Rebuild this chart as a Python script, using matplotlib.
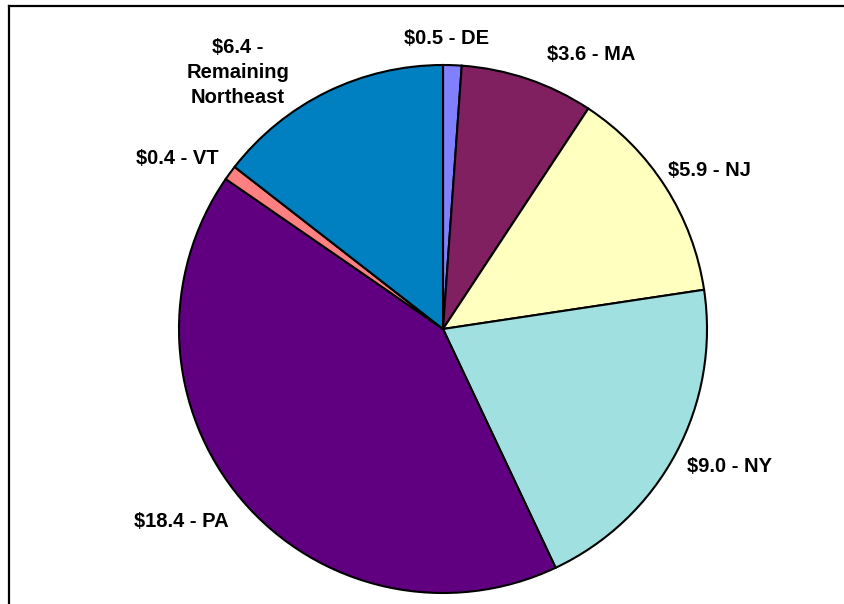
import matplotlib.pyplot as plt
from matplotlib.lines import Line2D

regions = ["DE", "MA", "NJ", "NY", "PA", "VT", "Remaining\nNortheast"]
values = [0.5, 3.6, 5.9, 9.0, 18.4, 0.4, 6.4]
colors = ["#8080FF", "#802060", "#FFFFC0", "#A0E0E0", "#600080", "#FF8080", "#0080C0"]

# label anchor points, in pie-radius units
label_pos = [(0.015, 1.102), (0.561, 1.038), (1.011, 0.602), (1.087, -0.519),
             (-0.992, -0.731), (-1.008, 0.644), (-0.777, 0.970)]

plt.rcParams["font.family"] = ["Liberation Sans", "DejaVu Sans"]

fig = plt.figure(figsize=(8.44, 6.04), dpi=100)
ax = fig.add_axes([0, 0, 1, 1])
ax.pie(values, colors=colors, startangle=90, counterclock=False, radius=1.0,
       wedgeprops={"edgecolor": "black", "linewidth": 1.5})
ax.set_aspect("auto")
scale = 264.0
ax.set_xlim(-443 / scale, (844 - 443) / scale)
ax.set_ylim(-(604 - 329) / scale, 329 / scale)
ax.axis("off")

for name, val, (x, y) in zip(regions, values, label_pos):
    if "\n" in name:
        txt = f"${val:.1f} -\n{name}"
    else:
        txt = f"${val:.1f} - {name}"
    ax.text(x, y, txt, ha="center", va="center", fontsize=14.5, fontweight="bold",
            linespacing=1.4)

# outer frame (right and bottom edges fall outside the image)
fig.add_artist(Line2D([8.5 / 844, 8.5 / 844], [-0.1, 1 - 6 / 604],
                      transform=fig.transFigure, color="black", linewidth=1.6))
fig.add_artist(Line2D([8.5 / 844, 1.1], [1 - 6 / 604, 1 - 6 / 604],
                      transform=fig.transFigure, color="black", linewidth=1.6))

fig.savefig("out.png", dpi=100)
